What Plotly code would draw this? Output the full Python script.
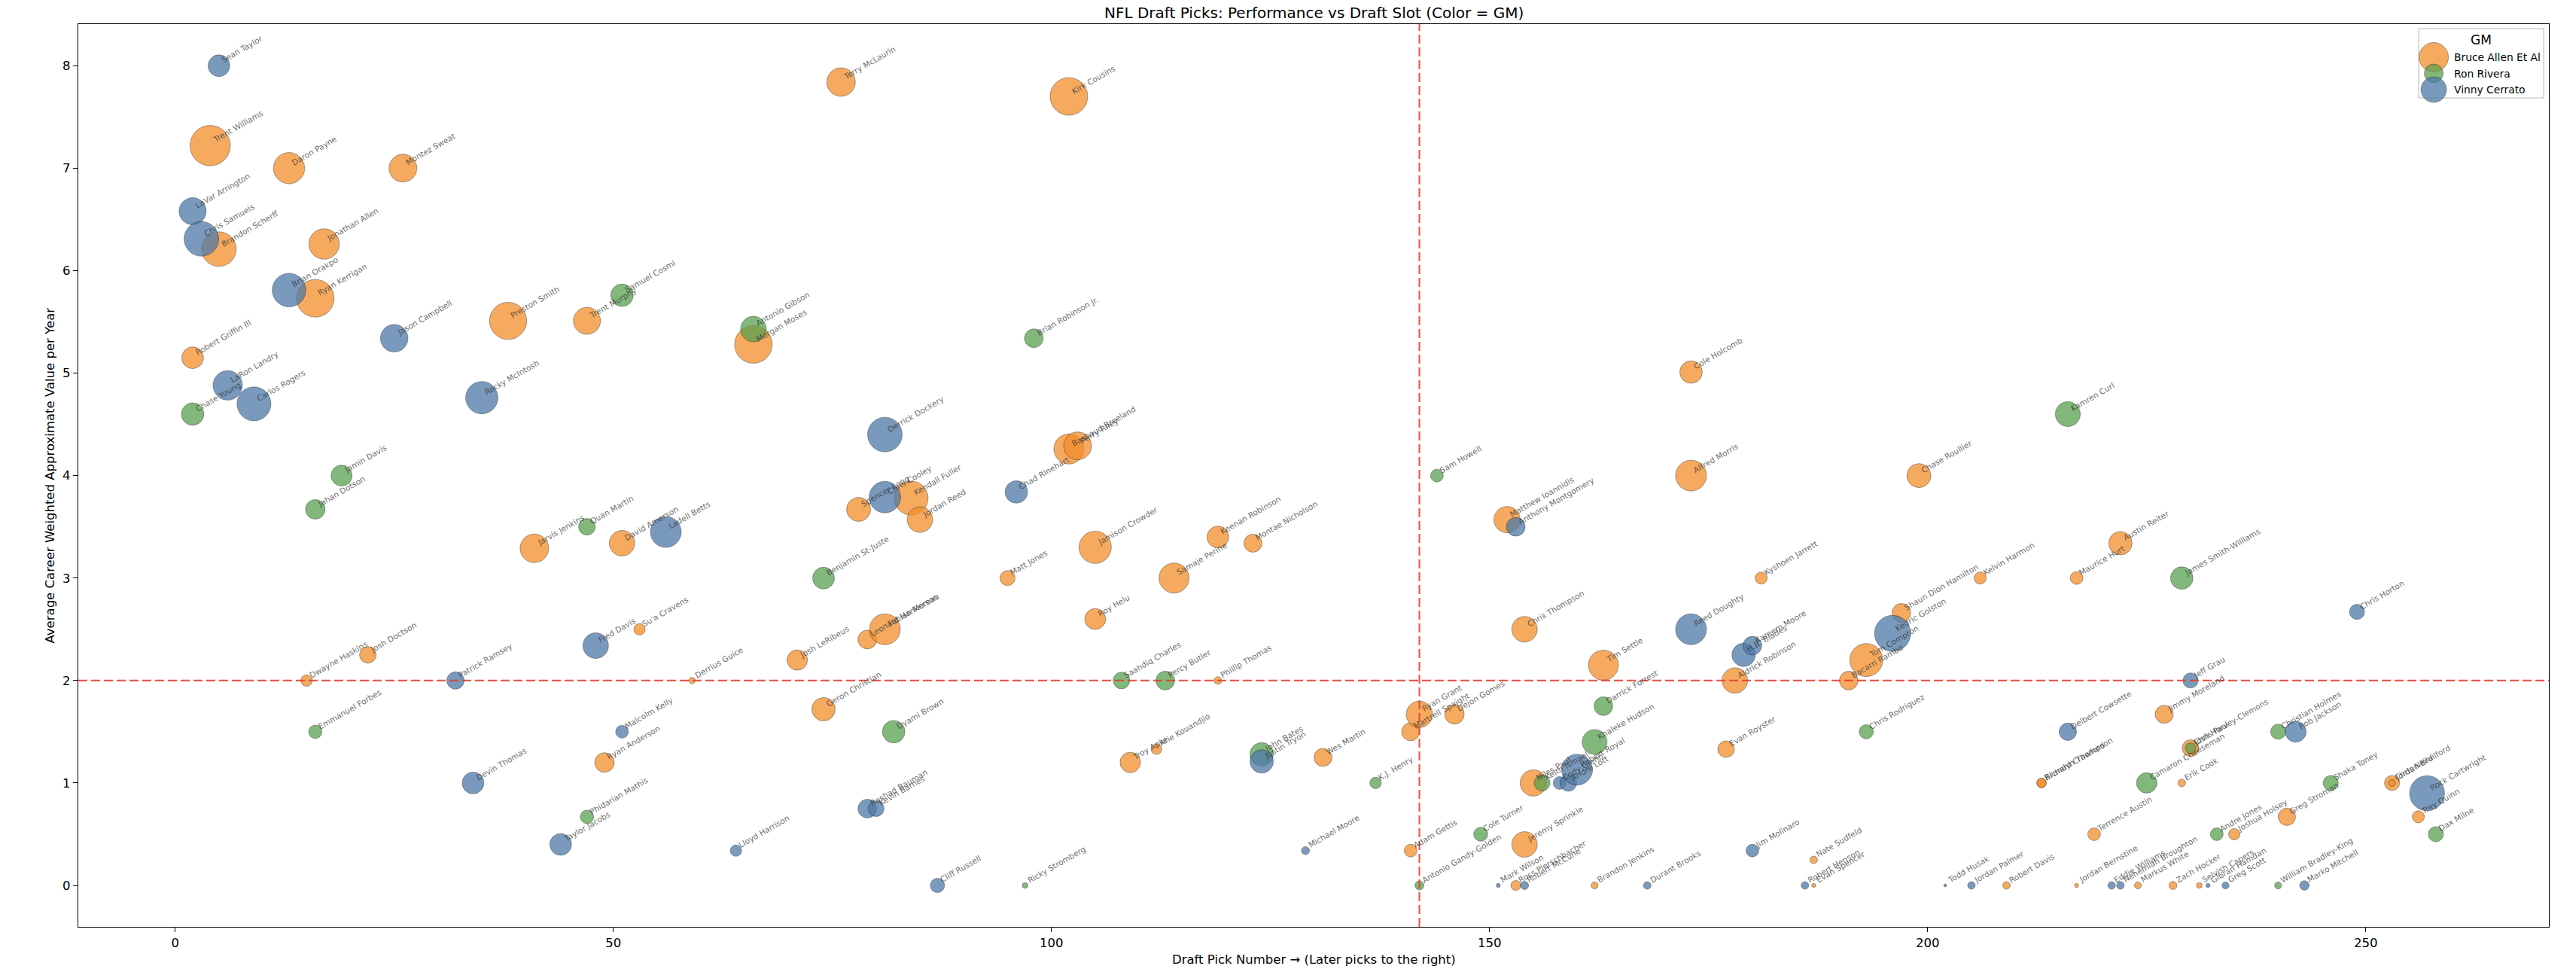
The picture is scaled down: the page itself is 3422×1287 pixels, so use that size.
"""
NFL draft picks: career value vs draft slot, coloured by GM
"""

import numpy as np
import plotly.graph_objects as go

# --- Bruce Allen Et Al ---
allen_names = ["Trent Williams", "Daron Payne", "Montez Sweat", "Brandon Scherff", "Jonathan Allen",
               "Ryan Kerrigan", "Preston Smith", "Trent Murphy", "Robert Griffin III", "Terry McLaurin",
               "Kirk Cousins", "Morgan Moses", "Bashaud Breeland", "Perry Riley", "Jarvis Jenkins",
               "Dwayne Haskins", "Josh Doctson", "Ryan Anderson", "David Amerson", "Su'a Cravens",
               "Derrius Guice", "Josh LeRibeus", "Geron Christian", "Spencer Long", "Leonard Hankerson",
               "Fabian Moreau", "Kendall Fuller", "Jordan Reed", "Matt Jones", "Jamison Crowder",
               "Roy Helu", "Troy Apke", "Arie Kouandjio", "Samaje Perine", "Keenan Robinson",
               "Phillip Thomas", "Montae Nicholson", "Wes Martin", "Martrell Spaight", "Adam Gettis",
               "Ryan Grant", "Dejon Gomes", "Matthew Ioannidis", "Ross Pierschbacher", "Chris Thompson",
               "Jeremy Sprinkle", "Niles Paul", "Brandon Jenkins", "Tim Settle", "Alfred Morris",
               "Cole Holcomb", "Evan Royster", "Aldrick Robinson", "Kyshoen Jarrett", "Nate Sudfeld",
               "Evan Spencer", "Bacarri Rambo", "Tom Compton", "Shaun Dion Hamilton", "Chase Roullier",
               "Kelvin Harmon", "Robert Davis", "Richard Crawford", "Brandyn Thompson", "Maurice Hurt",
               "Jordan Bernstine", "Terrence Austin", "Austin Reiter", "Markus White", "Jimmy Moreland",
               "Zach Hocker", "Erik Cook", "Josh Harvey-Clemons", "Selvish Capers", "Joshua Holsey",
               "Greg Stroman", "Chris Neild", "Jordan Brailford", "Trey Quinn"]
allen_picks = [4, 13, 26, 5, 17, 16, 38, 47, 2, 76,
               102, 66, 102, 103, 41, 15, 22, 49, 51, 53,
               59, 71, 74, 78, 79, 81, 84, 85, 95, 105,
               105, 109, 112, 114, 119, 119, 123, 131, 141, 141,
               142, 146, 152, 153, 154, 154, 155, 162, 163, 173,
               173, 177, 178, 181, 187, 187, 191, 193, 197, 199,
               206, 209, 213, 213, 217, 217, 219, 222, 224, 227,
               228, 229, 230, 231, 235, 241, 253, 253, 256]
allen_value = [7.22, 7.0, 7.0, 6.21, 6.26, 5.73, 5.51, 5.51, 5.15, 7.84,
               7.70, 5.28, 4.26, 4.29, 3.29, 2.0, 2.25, 1.20, 3.34, 2.50,
               2.0, 2.20, 1.72, 3.67, 2.40, 2.50, 3.78, 3.57, 3.0, 3.30,
               2.60, 1.20, 1.33, 3.0, 3.40, 2.0, 3.34, 1.25, 1.50, 0.34,
               1.67, 1.67, 3.57, 0.0, 2.50, 0.40, 1.0, 0.0, 2.15, 4.0,
               5.01, 1.33, 2.0, 3.0, 0.25, 0.0, 2.0, 2.20, 2.66, 4.0,
               3.0, 0.0, 1.0, 1.0, 3.0, 0.0, 0.50, 3.34, 0.0, 1.67,
               0.0, 1.0, 1.34, 0.0, 0.50, 0.67, 1.0, 1.0, 0.67]
allen_games = [200, 120, 95, 147, 114, 174, 170, 90, 58, 100,
               174, 174, 111, 95, 100, 16, 34, 47, 80, 16,
               5, 51, 67, 71, 43, 117, 141, 80, 28, 128,
               54, 51, 14, 111, 58, 7, 40, 40, 40, 20,
               85, 47, 85, 12, 80, 80, 85, 6, 111, 117,
               62, 34, 80, 18, 7, 2, 43, 134, 43, 71,
               18, 7, 11, 11, 20, 2, 20, 67, 6, 40,
               8, 7, 34, 4, 16, 37, 28, 6, 18]

# --- Ron Rivera ---
rivera_names = ["Chase Young", "Jahan Dotson", "Jamin Davis", "Emmanuel Forbes", "Quan Martin",
                "Phidarian Mathis", "Samuel Cosmi", "Antonio Gibson", "Benjamin St-Juste", "Dyami Brown",
                "Ricky Stromberg", "Brian Robinson Jr.", "Saahdiq Charles", "Percy Butler", "John Bates",
                "K.J. Henry", "Antonio Gandy-Golden", "Sam Howell", "Cole Turner", "Keith Ismael",
                "Khaleke Hudson", "Darrick Forrest", "Chris Rodriguez", "Kamren Curl", "Camaron Cheeseman",
                "James Smith-Williams", "Chris Paul", "Andre Jones", "Christian Holmes",
                "William Bradley-King", "Shaka Toney", "Dax Milne"]
rivera_picks = [2, 16, 19, 16, 47, 47, 51, 66, 74, 82,
                97, 98, 108, 113, 124, 137, 142, 144, 149, 156,
                162, 163, 193, 216, 225, 229, 230, 233, 240, 240,
                246, 258]
rivera_value = [4.60, 3.67, 4.0, 1.50, 3.50, 0.67, 5.76, 5.43, 3.0, 1.50,
                0.0, 5.34, 2.0, 2.0, 1.28, 1.0, 0.0, 4.0, 0.50, 1.0,
                1.40, 1.75, 1.50, 4.60, 1.0, 3.0, 1.34, 0.50, 1.50, 0.0,
                1.0, 0.50]
rivera_games = [62, 47, 54, 22, 34, 22, 62, 80, 58, 62,
                4, 43, 34, 43, 67, 16, 10, 20, 24, 31,
                76, 43, 25, 76, 51, 62, 14, 20, 28, 6,
                28, 28]

# --- Vinny Cerrato ---
cerrato_names = ["Sean Taylor", "LaVar Arrington", "Chris Samuels", "Brian Orakpo", "Jason Campbell",
                 "LaRon Landry", "Carlos Rogers", "Rocky McIntosh", "Patrick Ramsey", "Devin Thomas",
                 "Taylor Jacobs", "Fred Davis", "Malcolm Kelly", "Ladell Betts", "Lloyd Harrison",
                 "Rashad Bauman", "Kevin Barnes", "Chris Cooley", "Derrick Dockery", "Cliff Russell",
                 "Chad Rinehart", "Justin Tryon", "Michael Moore", "Mark Wilson", "Anthony Montgomery",
                 "Robert McCune", "Cody Glenn", "Andre Lott", "Robert Royal", "Durant Brooks",
                 "Reed Doughty", "H.B. Blades", "Kareem Moore", "Jim Molinaro", "Robert Henson",
                 "Kedric Golston", "Todd Husak", "Jordan Palmer", "Delbert Cowsette", "Eddie Williams",
                 "Nehemiah Broughton", "Jeff Grau", "Gibran Hamdan", "Greg Scott", "Rob Jackson",
                 "Marko Mitchell", "Chris Horton", "Rock Cartwright"]
cerrato_picks = [5, 2, 3, 13, 25, 6, 9, 35, 32, 34,
                 44, 48, 51, 56, 64, 79, 80, 81, 81, 87,
                 96, 124, 129, 151, 153, 154, 158, 159, 160, 168,
                 173, 179, 180, 180, 186, 196, 202, 205, 216, 221,
                 222, 230, 232, 234, 242, 243, 249, 257]
cerrato_value = [8.0, 6.58, 6.31, 5.81, 5.34, 4.88, 4.70, 4.76, 2.0, 1.0,
                 0.40, 2.34, 1.50, 3.45, 0.34, 0.75, 0.75, 3.79, 4.40, 0.0,
                 3.84, 1.21, 0.34, 0.0, 3.50, 0.0, 1.0, 1.0, 1.13, 0.0,
                 2.50, 2.25, 2.34, 0.34, 0.0, 2.46, 0.0, 0.0, 1.50, 0.0,
                 0.0, 2.0, 0.0, 0.0, 1.50, 0.0, 2.67, 0.90]
cerrato_games = [58, 90, 147, 138, 93, 106, 141, 128, 37, 58,
                 58, 80, 20, 117, 16, 43, 31, 122, 147, 25,
                 62, 67, 8, 2, 43, 8, 20, 34, 117, 7,
                 117, 67, 43, 20, 7, 160, 1, 7, 37, 7,
                 7, 28, 2, 6, 54, 11, 28, 150]

gm_names = ["Bruce Allen Et Al", "Ron Rivera", "Vinny Cerrato"]
gm_colors = ["#F28E2B", "#59A14F", "#4E79A7"]
legend_sizes = [39, 25, 34]

median_pick = 142
value_cut = 2

# page has an 8px body margin, so the figure is drawn 8px in from the corner
OFF = 8
W, H = 3422 - OFF, 1287 - OFF
L, R, T, B = 104 - OFF, 36, 32 - OFF, 56
FONT = "DejaVu Sans"


def px2paper(X, Y):
    # X, Y are screen pixels
    X, Y = X - OFF, Y - OFF
    return (X - L) / (W - L - R), (H - B - Y) / (H - T - B)


groups = [
    (allen_names, allen_picks, allen_value, allen_games),
    (rivera_names, rivera_picks, rivera_value, rivera_games),
    (cerrato_names, cerrato_picks, cerrato_value, cerrato_games),
]

fig = go.Figure()
for gm, color, (names, picks, vals, games) in zip(gm_names, gm_colors, groups):
    fig.add_trace(go.Scatter(
        x=picks, y=vals, mode="markers", name=gm, text=names,
        marker=dict(size=np.sqrt(14.4 * np.array(games)), color=color, opacity=0.75,
                    line=dict(color="rgba(0,0,0,0.65)", width=0.7)),
        hovertemplate="%{text}<br>Pick %{x}<br>%{y}<extra></extra>",
        showlegend=False,
    ))
    for n, x, y in zip(names, picks, vals):
        fig.add_annotation(x=x, y=y, text=n, textangle=-30, xanchor="left", yanchor="bottom",
                           showarrow=False, borderpad=0,
                           font=dict(family=FONT, size=10.5, color="rgba(45,45,45,0.72)"))

# reference lines
line_style = dict(color="rgba(226,62,45,0.85)", width=2.2, dash="12px,5px")
fig.add_hline(y=value_cut, line=line_style)
fig.add_vline(x=median_pick, line=line_style)

# hand-drawn legend (matplotlib-style, big markers)
bx0, by0 = px2paper(3213, 130)
bx1, by1 = px2paper(3379, 38)
fig.add_shape(type="rect", xref="paper", yref="paper", x0=bx0, y0=by0, x1=bx1, y1=by1,
              line=dict(color="#d0d0d0", width=1.5), fillcolor="rgba(255,255,255,0.85)", layer="above")
gx, gy = px2paper(3296, 53)
fig.add_annotation(xref="paper", yref="paper", x=gx, y=gy, text="GM", showarrow=False,
                   xanchor="center", yanchor="middle",
                   font=dict(family=FONT, size=17, color="black"))
tx, _ = px2paper(3258, 0)
for i, (gm, color, d) in enumerate(zip(gm_names, gm_colors, legend_sizes)):
    cx, cy = px2paper(3233, 76 + 21.5 * i)
    r = d / 2
    fig.add_shape(type="circle", xref="paper", yref="paper", xsizemode="pixel", ysizemode="pixel",
                  xanchor=cx, yanchor=cy, x0=-r, x1=r, y0=-r, y1=r,
                  fillcolor=color, opacity=0.75, line=dict(color="rgba(0,0,0,0.65)", width=0.7),
                  layer="above")
    fig.add_annotation(xref="paper", yref="paper", x=tx, y=cy, text=gm, showarrow=False,
                       xanchor="left", yanchor="middle",
                       font=dict(family=FONT, size=13.8, color="black"))

# axis titles
_, xly = px2paper(0, 1274)
fig.add_annotation(xref="paper", yref="paper", x=0.5, y=xly,
                   text="Draft Pick Number → (Later picks to the right)",
                   showarrow=False, xanchor="center", yanchor="middle",
                   font=dict(family=FONT, size=16.5, color="black"))
ylx, _ = px2paper(66, 0)
fig.add_annotation(xref="paper", yref="paper", x=ylx, y=0.5, textangle=-90,
                   text="Average Career Weighted Approximate Value per Year",
                   showarrow=False, xanchor="center", yanchor="middle",
                   font=dict(family=FONT, size=16.5, color="black"))

# title as a paper annotation just above the frame
_, tty = px2paper(0, 17)
fig.add_annotation(xref="paper", yref="paper", x=0.5, y=tty,
                   text="NFL Draft Picks: Performance vs Draft Slot (Color = GM)",
                   showarrow=False, xanchor="center", yanchor="middle",
                   font=dict(family=FONT, size=20, color="black"))

axis_common = dict(showline=True, mirror=True, linecolor="black", linewidth=1.3,
                   ticks="outside", ticklen=6, tickwidth=1.3, tickcolor="black",
                   showgrid=False, zeroline=False,
                   tickfont=dict(family=FONT, size=16.5, color="black"))

fig.update_layout(
    width=W, height=H,
    margin=dict(l=L, r=R, t=T, b=B),
    paper_bgcolor="white", plot_bgcolor="white",
    xaxis=dict(range=[-11.05, 270.9], tickvals=[0, 50, 100, 150, 200, 250], **axis_common),
    yaxis=dict(range=[-0.404, 8.406], tickvals=list(range(0, 9)), **axis_common),
)

fig.write_html("out.html")
